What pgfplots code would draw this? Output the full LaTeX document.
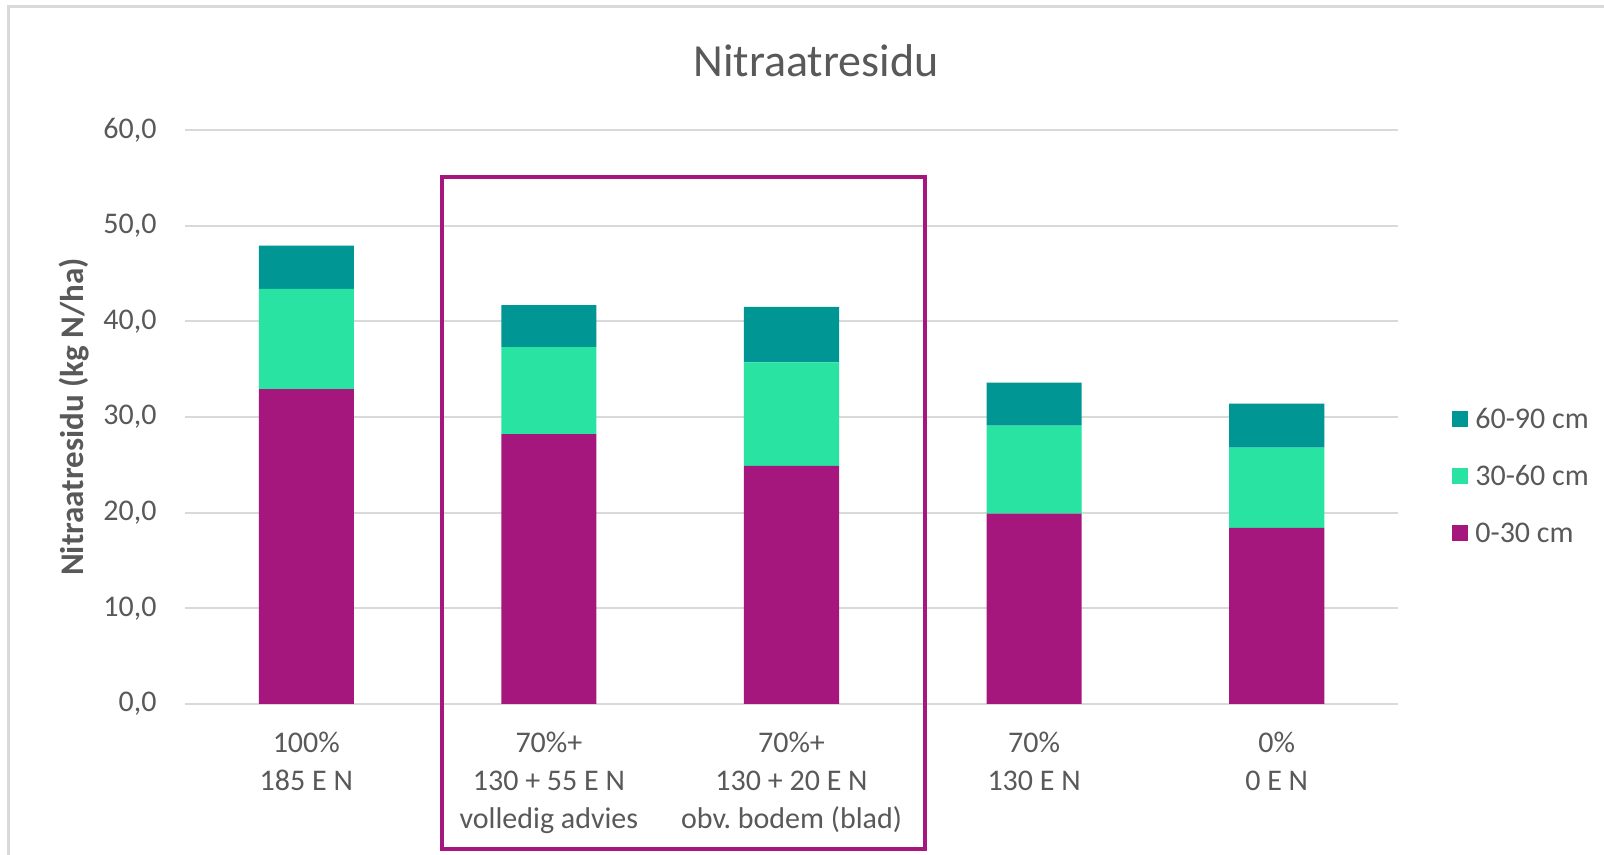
\documentclass[border=0pt]{standalone}
\usepackage{pgfplots}
\pgfplotsset{compat=1.18}
\usepackage{fontspec}
\setmainfont{Carlito}
\frenchspacing
\definecolor{c1}{HTML}{A6177D}
\definecolor{c2}{HTML}{29E3A2}
\definecolor{c3}{HTML}{009694}
\definecolor{txt}{HTML}{595959}
\definecolor{grd}{HTML}{D9D9D9}
\begin{document}
\begin{tikzpicture}
\useasboundingbox (0,0) rectangle (802pt,427.5pt);
\fill[white] (0,0) rectangle (802pt,427.5pt);
\draw[grd, line width=1.5pt] (4pt,-5pt) -- (4pt,424pt) -- (810pt,424pt);
\node[font=\fontsize{23}{28}\selectfont, text=txt, anchor=base] at (408pt,389pt) {Nitraatresidu};
\begin{axis}[
  at={(92.5pt,75.5pt)}, anchor=south west,
  scale only axis, width=606.5pt, height=287pt,
  ybar stacked, bar width=0.392,
  xmin=-0.5, xmax=4.5, ymin=0, ymax=60,
  xtick={0,1,2,3,4},
  xticklabels={{100\%\\185 E N},{70\%+\\130 + 55 E N\\volledig advies},{70\%+\\130 + 20 E N\\obv.\ bodem (blad)},{70\%\\130 E N},{0\%\\0 E N}},
  xticklabel style={align=center, font=\fontsize{15}{19}\selectfont, text=txt, anchor=north, inner sep=0pt, yshift=-14pt},
  ytick={0,10,20,30,40,50,60},
  yticklabel style={font=\fontsize{15}{18}\selectfont, text=txt, anchor=east, inner sep=0pt, xshift=-14pt},
  /pgf/number format/fixed, /pgf/number format/fixed zerofill, /pgf/number format/precision=1,
  /pgf/number format/use comma, /pgf/number format/1000 sep={}, /pgf/number format/assume math mode=true,
  ymajorgrids, grid style={grd, line width=1pt},
  axis line style={draw=none}, major tick length=0pt,
  ylabel={Nitraatresidu (kg N/ha)},
  ylabel style={at={(axis description cs:-0.0915,0.5)}, anchor=center, font=\fontsize{16.5}{20}\selectfont\bfseries, text=txt},
  clip=false,
  reverse legend,
  legend cell align=left,
  legend style={draw=none, fill=none, at={(1.0445,0.397)}, anchor=west, inner sep=0pt,
    font=\fontsize{15}{18}\selectfont, text=txt, row sep=17.5pt,
    nodes={inner sep=0pt, text height=10pt, text depth=1pt},
    /tikz/every odd column/.append style={column sep=3.5pt}},
  legend image code/.code={\fill[#1] (0pt,-4pt) rectangle (8pt,4pt);},
]
\addplot[fill=c1, draw=none] coordinates {(0,32.9) (1,28.2) (2,24.9) (3,19.9) (4,18.4)};
\addplot[fill=c2, draw=none] coordinates {(0,10.5) (1,9.1) (2,10.8) (3,9.2) (4,8.4)};
\addplot[fill=c3, draw=none] coordinates {(0,4.5) (1,4.4) (2,5.8) (3,4.5) (4,4.6)};
\legend{0-30 cm,30-60 cm,60-90 cm}
\draw[c1, line width=2pt] (axis cs:0.559,55.1) rectangle (axis cs:2.55,-15.2);
\end{axis}
\end{tikzpicture}
\end{document}
